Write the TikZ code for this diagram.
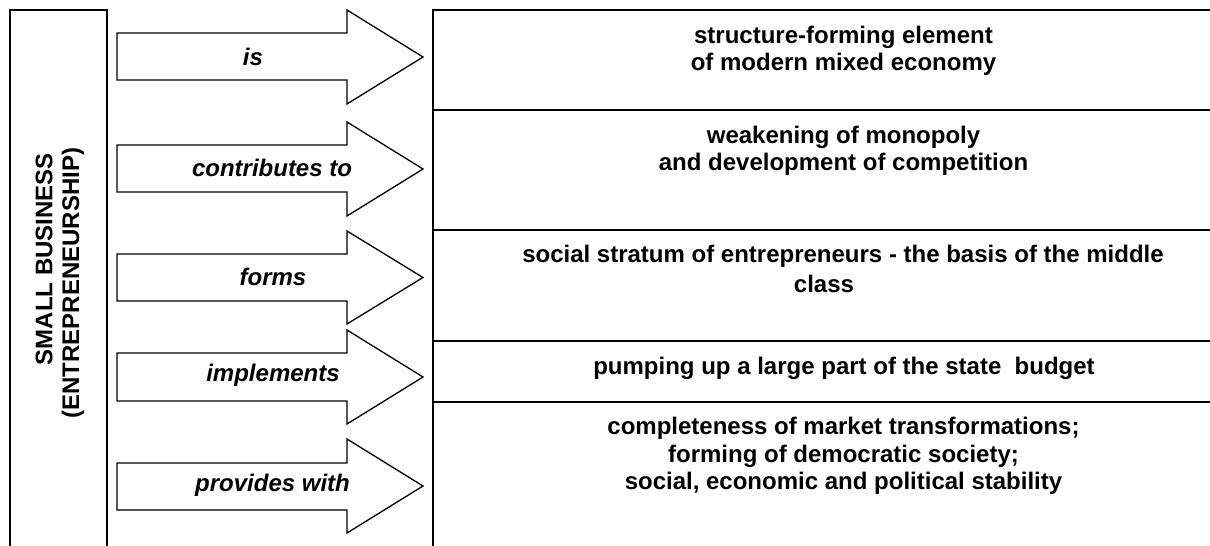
\documentclass[tikz,border=0pt]{standalone}
\usepackage{fontspec}
\setmainfont{Liberation Sans}
\begin{document}
\begin{tikzpicture}[x=1pt,y=-1pt,line width=1.3pt,
  rtext/.style={font=\fontsize{24}{27.5}\selectfont\bfseries,align=center,inner sep=0pt},
  lbl/.style={font=\fontsize{24}{27.5}\selectfont\bfseries\itshape,inner sep=0pt},
  blockarrow/.style={draw=black,fill=white,line join=miter}]
\useasboundingbox (0,0) rectangle (1210,546);
% left box (open at bottom)
\draw (10,546) -- (10,10) -- (107,10) -- (107,546);
\node[rtext,rotate=90] (sb) at (44,259) {SMALL BUSINESS};
\node[rtext,rotate=90] (en) at (73,283) {(ENTREPRENEURSHIP)};
% right column
\draw (1210,10) -- (433,10) -- (433,546);
\foreach \yy in {110,230,341,402} \draw (433,\yy) -- (1210,\yy);
% arrows
\newcommand{\blockarr}[4]{% #1 body top, #2 body bottom, #3 head top, #4 head bottom
  \draw[blockarrow] (117,#1) -- (347,#1) -- (347,#3) -- (423,{(#3+#4)/2}) -- (347,#4) -- (347,#2) -- (117,#2) -- cycle;}
\blockarr{33}{80}{10}{104}
\blockarr{145}{192}{122}{216}
\blockarr{254}{301}{231}{324}
\blockarr{353}{401}{330}{424}
\blockarr{463}{510}{439}{533}
\node[lbl] (l1) at (253,57) {is};
\node[lbl] (l2) at (272,168) {contributes to};
\node[lbl] (l3) at (273,277) {forms};
\node[lbl] (l4) at (273,375) {implements};
\node[lbl] (l5) at (272.5,485) {provides with};
% right texts
\node[rtext] (t1) at (843.5,51) {structure-forming element\\of modern mixed economy};
\node[rtext] (t2) at (843.5,151) {weakening of monopoly\\and development of competition};
\node[rtext] (t3a) at (843,256) {social stratum of entrepreneurs - the basis of the middle};
\node[rtext] (t3b) at (824,284) {class};
\node[rtext] (t4) at (844,368) {pumping up a large part of the state\ \ budget};
\node[rtext] (t5) at (843.5,456) {completeness of market transformations;\\forming of democratic society;\\social, economic and political stability};
\end{tikzpicture}
\end{document}
